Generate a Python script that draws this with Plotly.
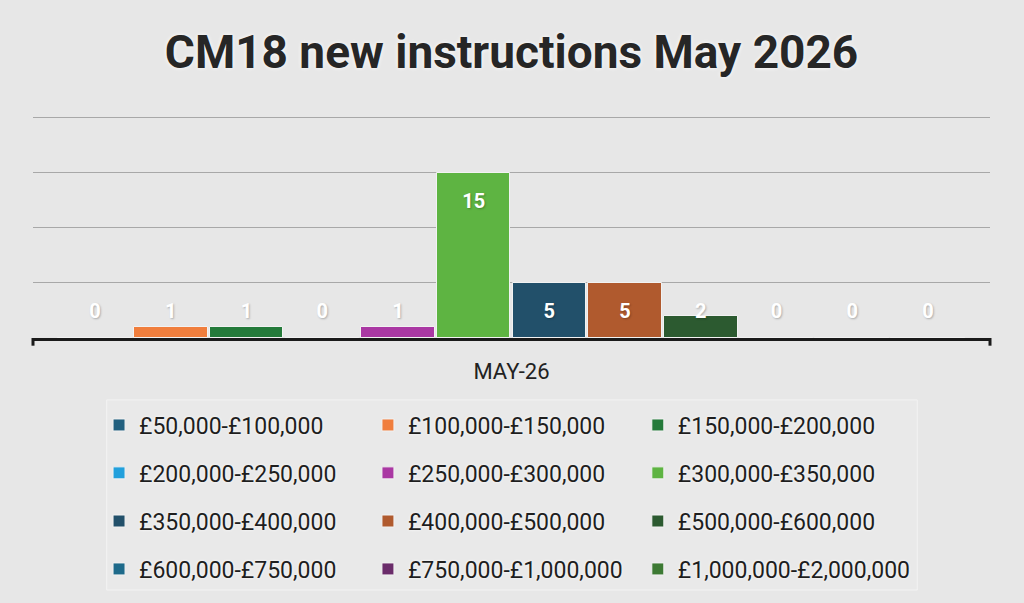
import plotly.graph_objects as go

# ==============================================================================
# DATA
# ==============================================================================

TITLE = 'CM18 new instructions May 2026'
MONTH = 'MAY-26'

BANDS = [
    '£50,000-£100,000', '£100,000-£150,000', '£150,000-£200,000',
    '£200,000-£250,000', '£250,000-£300,000', '£300,000-£350,000',
    '£350,000-£400,000', '£400,000-£500,000', '£500,000-£600,000',
    '£600,000-£750,000', '£750,000-£1,000,000', '£1,000,000-£2,000,000',
]
COUNTS = [0, 1, 1, 0, 1, 15, 5, 5, 2, 0, 0, 0]
COLORS = [
    '#22607f', '#f07e3d', '#247a3a',
    '#22a0dc', '#aa38a3', '#5eb442',
    '#22506a', '#b05a2e', '#2c5a30',
    '#1e6a8a', '#6a2c6a', '#3d7a34',
]

# label placement (Excel puts small-value labels at a fixed height)
LABEL_FLOOR = 5
LABEL_DROP = 2.75

FONT = 'Roboto, Liberation Sans, sans-serif'

# legend grid: 3 columns x 4 rows, filled left to right
LEGEND_COLS = [0.069, 0.350, 0.632]
LEGEND_ROWS = [-0.385, -0.597, -0.810, -1.022]

# ==============================================================================
# FIGURE
# ==============================================================================

fig = go.Figure()

legends = {}
for i, (band, count, color) in enumerate(zip(BANDS, COUNTS, COLORS)):
    lid = 'legend' if i == 0 else f'legend{i + 1}'
    fig.add_trace(go.Bar(
        x=[i], y=[count],
        name=band,
        width=0.97,
        marker=dict(color=color, line=dict(color='#f2f2f2', width=1)),
        legend=lid,
        hovertemplate=f'{band}: %{{y}}<extra></extra>'
    ))
    legends[lid] = dict(
        x=LEGEND_COLS[i % 3], y=LEGEND_ROWS[i // 3],
        xanchor='left', yanchor='middle', orientation='v',
        bgcolor='rgba(0,0,0,0)', borderwidth=0,
        font=dict(family=FONT, size=23, color='#1e1e1e', shadow='0px 0px 3px white'),
        itemclick=False, itemdoubleclick=False
    )

# data labels
label_y = [max(c, LABEL_FLOOR) - LABEL_DROP for c in COUNTS]
fig.add_trace(go.Scatter(
    x=list(range(len(COUNTS))), y=label_y,
    mode='text',
    text=[str(c) for c in COUNTS],
    textfont=dict(family=FONT, size=20, color='white', weight='bold',
                  shadow='1px 1px 2px rgba(0,0,0,0.25)'),
    showlegend=False, hoverinfo='skip', cliponaxis=False
))

# legend backdrop and axis end caps
shapes = [
    dict(type='rect', xref='paper', yref='paper',
         x0=0.077, x1=0.924, y0=-1.115, y1=-0.274,
         fillcolor='#e9e9e9', line=dict(color='#f3f3f3', width=1), layer='below'),
    dict(type='line', xref='paper', yref='paper', x0=0, x1=0, y0=0, y1=-0.034,
         line=dict(color='#1a1a1a', width=3)),
    dict(type='line', xref='paper', yref='paper', x0=1, x1=1, y0=0, y1=-0.034,
         line=dict(color='#1a1a1a', width=3)),
]

fig.update_layout(
    width=1024, height=603,
    margin=dict(l=33, r=34, t=112, b=265),
    paper_bgcolor='#e7e7e7',
    plot_bgcolor='rgba(0,0,0,0)',
    title=dict(
        text=TITLE, x=0.5, xanchor='center', xref='paper',
        y=1 - 52 / 603, yanchor='middle', yref='container',
        font=dict(family=FONT, size=46, color='#262626', weight='bold',
                  shadow='0px 0px 4px white')
    ),
    showlegend=True,
    shapes=shapes,
    bargap=0,
    **legends
)

fig.update_xaxes(
    range=[-0.82, len(COUNTS) - 1 + 0.82],
    tickvals=[(len(COUNTS) - 1) / 2], ticktext=[MONTH],
    ticks='', showgrid=False, zeroline=False,
    showline=True, linecolor='#1a1a1a', linewidth=3,
    tickfont=dict(family=FONT, size=22, color='#222222'),
    ticklabelstandoff=12, fixedrange=True
)
fig.update_yaxes(
    range=[0, 20.5], dtick=5, showticklabels=False,
    showgrid=True, gridcolor='#a8a8a8', gridwidth=1,
    zeroline=False, fixedrange=True
)

fig.write_html('out.html', config={'displayModeBar': False},
               post_script="document.body.style.margin='0';")
